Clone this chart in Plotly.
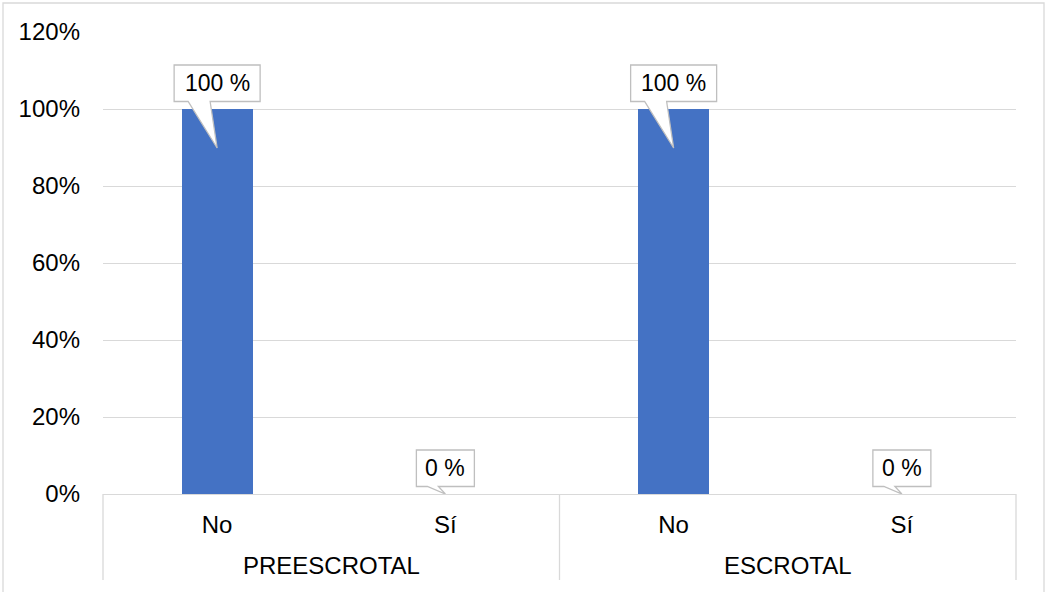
import plotly.graph_objects as go

# ---- data ----
groups = ["PREESCROTAL", "PREESCROTAL", "ESCROTAL", "ESCROTAL"]
categories = ["No", "Sí", "No", "Sí"]
values = [1.00, 0.00, 1.00, 0.00]
y_ticks = [0, 0.2, 0.4, 0.6, 0.8, 1.0, 1.2]

# ---- style ----
W, H = 1046, 592
ML, MR, MT, MB = 103, 30, 32, 98
PW, PH = W - ML - MR, H - MT - MB
FONT = "Liberation Sans, Arial, sans-serif"
FS = 24
GRID = "#d9d9d9"
BAR = "#4472c4"
CALLOUT_LINE = "#bfbfbf"
callout_w = [86, 58, 86, 58]          # box widths (px)
callout_tip = [(0, -39), (0, 0), (0, -39), (0, 0)]  # pointer tip rel. to point (px)
callout_base = [(-29, -7), (-18, -7), (-29, -7), (-18, -7)]

x_idx = list(range(len(categories)))
labels = [f"{v*100:.0f} %" for v in values]
XR = [-0.5, len(categories) - 0.5]


def xpaper(v):
    return (v - XR[0]) / (XR[1] - XR[0])


fig = go.Figure()
fig.add_trace(go.Bar(
    x=x_idx, y=values, marker=dict(color=BAR, line=dict(width=0)),
    width=0.31, hoverinfo="skip", showlegend=False,
))

shapes = []
annotations = []

# callouts
for i, (x, v, t) in enumerate(zip(x_idx, values, labels)):
    w = callout_w[i]
    top, bot = 44, 7.5
    b1, b2 = callout_base[i]
    tx, ty = callout_tip[i]
    path = (f"M{-w/2},{top} L{w/2},{top} L{w/2},{bot} L{b2},{bot} "
            f"L{tx},{ty} L{b1},{bot} L{-w/2},{bot} Z")
    shapes.append(dict(
        type="path", xref="x", yref="y", xsizemode="pixel", ysizemode="pixel",
        xanchor=x, yanchor=v, path=path, fillcolor="white",
        line=dict(color=CALLOUT_LINE, width=1.3), layer="above",
    ))
    annotations.append(dict(
        x=x, y=v, xref="x", yref="y", text=t, showarrow=False,
        yshift=(top + bot) / 2, xanchor="center", yanchor="middle",
        font=dict(family=FONT, size=FS - 1, color="#000000"),
    ))

# group labels and dividers
uniq = []
for g in groups:
    if g not in uniq:
        uniq.append(g)
bounds = [XR[0]]
for g in uniq:
    idx = [i for i, gg in enumerate(groups) if gg == g]
    center = sum(idx) / len(idx)
    annotations.append(dict(
        x=center, y=0, xref="x", yref="y", text=g, showarrow=False,
        yshift=-71, xanchor="center", yanchor="middle",
        font=dict(family=FONT, size=FS, color="#000000"),
    ))
    bounds.append(max(idx) + 0.5)
for b in bounds:
    shapes.append(dict(
        type="line", xref="paper", yref="paper",
        x0=xpaper(b), x1=xpaper(b), y0=0, y1=-86 / PH,
        line=dict(color=GRID, width=1.3), layer="above",
    ))

# outer border
shapes.append(dict(
    type="rect", xref="paper", yref="paper",
    x0=(3 - ML) / PW, x1=(1044 - ML) / PW,
    y0=(PH + MT - 600) / PH, y1=(PH + MT - 3) / PH,
    line=dict(color=GRID, width=1.3), fillcolor="rgba(0,0,0,0)", layer="below",
))

fig.update_layout(
    width=W, height=H,
    margin=dict(l=ML, r=MR, t=MT, b=MB, pad=0),
    paper_bgcolor="white", plot_bgcolor="white",
    font=dict(family=FONT, size=FS, color="#000000"),
    shapes=shapes, annotations=annotations,
    bargap=0,
    xaxis=dict(
        range=XR,
        tickmode="array", tickvals=x_idx, ticktext=categories,
        showgrid=False, zeroline=False, showline=True, linecolor=GRID, linewidth=1.3,
        ticks="", ticklabelstandoff=9,
        tickfont=dict(family=FONT, size=FS, color="#000000"),
    ),
    yaxis=dict(
        range=[0, 1.2], tickmode="array", tickvals=y_ticks, tickformat=".0%",
        showgrid=True, gridcolor=GRID, gridwidth=1.3, zeroline=False, showline=False,
        ticks="", ticklabelstandoff=22,
        tickfont=dict(family=FONT, size=FS, color="#000000"),
    ),
)

fig.write_html("out.html")
